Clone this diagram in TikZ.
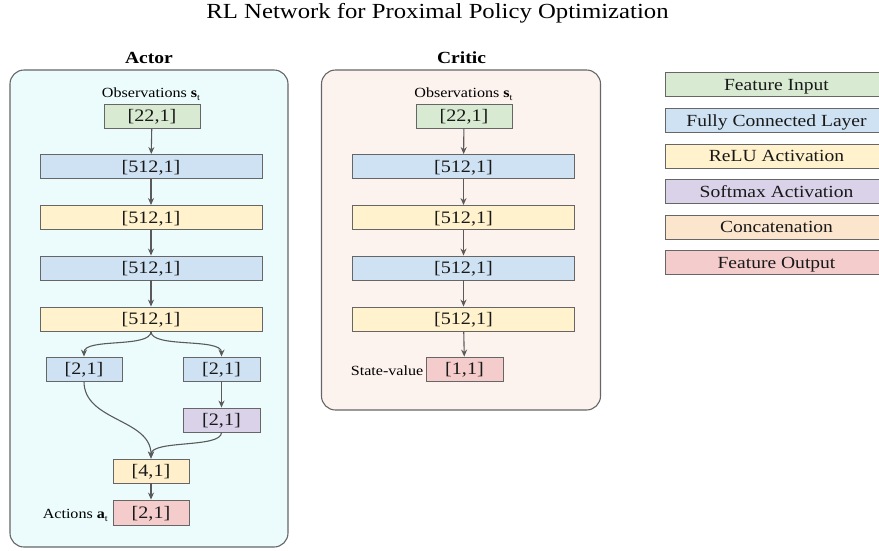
\documentclass[tikz,border=0pt]{standalone}
\usepackage{fontspec}
\setmainfont[FakeStretch=1.15]{Liberation Serif}
\usetikzlibrary{arrows.meta}
\definecolor{cgreen}{HTML}{D9EAD3}
\definecolor{cblue}{HTML}{CFE2F3}
\definecolor{cyellow}{HTML}{FFF2CC}
\definecolor{cpurple}{HTML}{D9D2E9}
\definecolor{corange}{HTML}{FCE5CD}
\definecolor{ccat}{HTML}{FFEFCA}
\definecolor{cred}{HTML}{F4CCCC}
\definecolor{cstroke}{HTML}{666666}
\definecolor{carrow}{HTML}{5A5A5A}
\definecolor{actorbg}{RGB}{236,252,253}
\definecolor{criticbg}{RGB}{253,243,238}
\newcommand{\subt}[1]{{\bfseries #1}\raisebox{-0.5ex}{\fontsize{9}{9}\selectfont t}}
\tikzset{
  panel/.style={draw=cstroke, line width=1.1pt, rounded corners=14pt},
  layer/.style={draw=cstroke, line width=0.9pt, minimum height=24pt, inner sep=0pt,
    font=\fontsize{17.5}{17.5}\selectfont, text=black!90, text height=11.5pt, text depth=0pt},
  wide/.style={layer, minimum width=222pt},
  small/.style={layer, minimum width=76pt},
  inbox/.style={layer, minimum width=96pt, fill=cgreen},
  legend/.style={layer, minimum width=223pt, font=\fontsize{17}{17}\selectfont, text height=11.3pt},
  lbl/.style={inner sep=0pt, anchor=base, font=\fontsize{14}{14}\selectfont},
  head/.style={inner sep=0pt, anchor=base, font=\fontsize{17}{17}\selectfont\bfseries},
  conn/.style={draw=carrow, line width=1.1pt, -{Stealth[length=7pt,width=6pt]}},
}
\begin{document}
\begin{tikzpicture}[x=1pt,y=-1pt]
\clip (0,0) rectangle (879,550);
\useasboundingbox (0,0) rectangle (879,550);

\node[inner sep=0pt, anchor=base, font=\fontsize{21.5}{21.5}\selectfont] (title) at (437.5,18) {RL Network for Proximal Policy Optimization};

% Actor
\node[head] (actorh) at (149,63.5) {Actor};
\draw[panel, fill=actorbg] (10,70) rectangle (288,547);
\node[lbl] (aobs) at (151,97.5) {Observations \subt{s}};
\node[inbox] (ain) at (152,116) {[22,1]};
\node[wide, fill=cblue] (afc1) at (151,166.5) {[512,1]};
\node[wide, fill=cyellow] (ar1) at (151,217.5) {[512,1]};
\node[wide, fill=cblue] (afc2) at (151,268) {[512,1]};
\node[wide, fill=cyellow] (ar2) at (151,319) {[512,1]};
\node[small, fill=cblue] (afcl) at (84,369) {[2,1]};
\node[small, fill=cblue, minimum width=77pt] (afcr) at (221.5,369) {[2,1]};
\node[small, fill=cpurple, minimum width=77pt] (asm) at (221.5,420) {[2,1]};
\node[small, fill=ccat] (acat) at (151,471) {[4,1]};
\node[small, fill=cred, minimum height=25pt] (aout) at (151,512.5) {[2,1]};
\node[lbl, anchor=base east] (aact) at (108,518) {Actions \subt{a}};

\draw[conn] (ain) -- (afc1);
\draw[conn] (afc1) -- (ar1);
\draw[conn] (ar1) -- (afc2);
\draw[conn] (afc2) -- (ar2);
\draw[conn] (ar2.south) .. controls ([yshift=-17pt]ar2.south) and ([yshift=19pt]afcl.north) .. (afcl.north);
\draw[conn] (ar2.south) .. controls ([yshift=-17pt]ar2.south) and ([yshift=19pt]afcr.north) .. (afcr.north);
\draw[conn] (afcr) -- (asm);
\draw[conn] (afcl.south) .. controls ([yshift=-40pt]afcl.south) and ([yshift=40pt]acat.north) .. (acat.north);
\draw[conn] (asm.south) .. controls ([yshift=-16pt]asm.south) and ([yshift=19pt]acat.north) .. (acat.north);
\draw[conn] (acat) -- (aout);

% Critic
\node[head] (critich) at (461.5,63.5) {Critic};
\draw[panel, fill=criticbg] (321.5,70) rectangle (600.5,410);
\node[lbl] (cobs) at (463.5,97.5) {Observations \subt{s}};
\node[inbox] (cin) at (464,116) {[22,1]};
\node[wide, fill=cblue] (cfc1) at (463.5,166.5) {[512,1]};
\node[wide, fill=cyellow] (cr1) at (463.5,217.5) {[512,1]};
\node[wide, fill=cblue] (cfc2) at (463.5,268) {[512,1]};
\node[wide, fill=cyellow] (cr2) at (463.5,319) {[512,1]};
\node[small, fill=cred, minimum width=77pt] (cout) at (464.5,369) {[1,1]};
\node[lbl, anchor=base east] (cval) at (423.5,375) {State-value};

\draw[conn] (cin) -- (cfc1);
\draw[conn] (cfc1) -- (cr1);
\draw[conn] (cr1) -- (cfc2);
\draw[conn] (cfc2) -- (cr2);
\draw[conn] (cr2) -- (cout);

% Legend
\node[legend, fill=cgreen] (l1) at (776.5,84.5) {Feature Input};
\node[legend, fill=cblue] (l2) at (776.5,120.5) {Fully Connected Layer};
\node[legend, fill=cyellow] (l3) at (776.5,156) {ReLU Activation};
\node[legend, fill=cpurple] (l4) at (776.5,191.5) {Softmax Activation};
\node[legend, fill=corange] (l5) at (776.5,227) {Concatenation};
\node[legend, fill=cred] (l6) at (776.5,262.5) {Feature Output};
\end{tikzpicture}
\end{document}
